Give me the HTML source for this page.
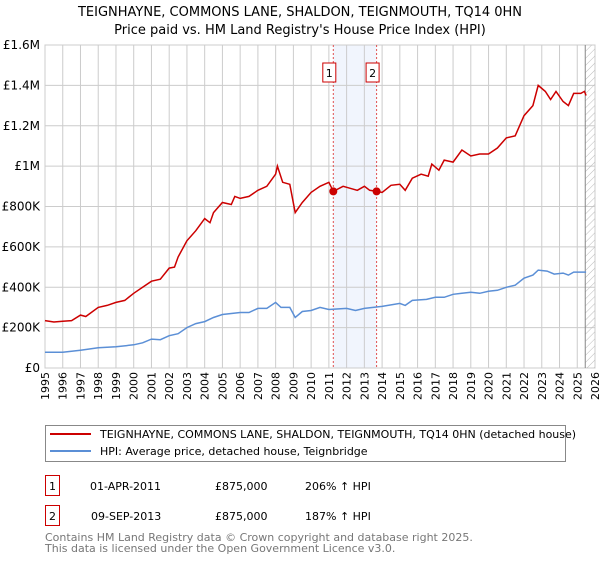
<!DOCTYPE html>
<html><head><meta charset="utf-8"><style>
body{margin:0;background:#fff;font-family:"DejaVu Sans","Liberation Sans",sans-serif;}
svg text{font-family:"DejaVu Sans","Liberation Sans",sans-serif;}
</style></head><body>
<svg id="c" width="600" height="560">
<defs><pattern id="hatch" width="5" height="5" patternUnits="userSpaceOnUse" patternTransform="rotate(45)"><line x1="0" y1="0" x2="0" y2="5" stroke="#bbb" stroke-width="1"/></pattern></defs>
<text x="300" y="16" text-anchor="middle" font-size="13">TEIGNHAYNE, COMMONS LANE, SHALDON, TEIGNMOUTH, TQ14 0HN</text>
<text x="300" y="34" text-anchor="middle" font-size="13">Price paid vs. HM Land Registry's House Price Index (HPI)</text>
<g id="grid"></g><g id="marks"></g><g id="axes"></g>
<rect x="45.5" y="425.5" width="520" height="36" fill="#fff" stroke="#888"/>
<line x1="50" y1="434" x2="91" y2="434" stroke="#cc0000" stroke-width="2"/>
<text x="100" y="438" font-size="11">TEIGNHAYNE, COMMONS LANE, SHALDON, TEIGNMOUTH, TQ14 0HN (detached house)</text>
<line x1="50" y1="451" x2="91" y2="451" stroke="#5b8fd6" stroke-width="2"/>
<text x="100" y="455" font-size="11">HPI: Average price, detached house, Teignbridge</text>
<g>
<rect x="45.5" y="475.5" width="14" height="20" fill="none" stroke="#cc0000"/><text x="52.5" y="490" font-size="11" text-anchor="middle">1</text>
<text x="90" y="490" font-size="11">01-APR-2011</text><text x="215" y="490" font-size="11">£875,000</text><text x="305" y="490" font-size="11">206% ↑ HPI</text></g>
<g>
<rect x="45.5" y="505.5" width="14" height="20" fill="none" stroke="#cc0000"/><text x="52.5" y="520" font-size="11" text-anchor="middle">2</text>
<text x="91" y="520" font-size="11">09-SEP-2013</text><text x="215" y="520" font-size="11">£875,000</text><text x="305" y="520" font-size="11">187% ↑ HPI</text></g>
<text x="45" y="541" font-size="11" fill="#777">Contains HM Land Registry data © Crown copyright and database right 2025.</text>
<text x="45" y="552" font-size="11" fill="#777">This data is licensed under the Open Government Licence v3.0.</text>
</svg>
<script>
const redT=[1995,1995.5,1996,1996.5,1997,1997.3,1998,1998.5,1999,1999.5,2000,2000.5,2001,2001.5,2002,2002.3,2002.5,2003,2003.5,2004,2004.3,2004.5,2005,2005.5,2005.7,2006,2006.5,2007,2007.5,2008,2008.1,2008.4,2008.8,2009.1,2009.5,2010,2010.5,2011,2011.25,2011.8,2012.2,2012.6,2013,2013.3,2013.69,2014,2014.5,2015,2015.3,2015.7,2016.2,2016.6,2016.8,2017.2,2017.5,2018,2018.5,2019,2019.5,2020,2020.5,2021,2021.5,2022,2022.5,2022.8,2023.2,2023.5,2023.8,2024.2,2024.5,2024.8,2025.2,2025.4,2025.5];
const redV=[235,228,232,235,262,255,300,310,325,335,370,400,430,440,495,500,550,630,680,740,720,770,820,810,850,840,850,880,900,960,1000,920,910,770,820,870,900,920,875,900,890,880,900,880,875,870,905,910,880,940,960,950,1010,980,1030,1020,1080,1050,1060,1060,1090,1140,1150,1250,1300,1400,1370,1330,1370,1320,1300,1360,1360,1370,1350];
const hpiT=[1995,1996,1997,1998,1999,2000,2000.5,2001,2001.5,2002,2002.5,2003,2003.5,2004,2004.5,2005,2006,2006.5,2007,2007.5,2008,2008.3,2008.8,2009.1,2009.5,2010,2010.5,2011,2012,2012.5,2013,2014,2015,2015.3,2015.7,2016.5,2017,2017.5,2018,2018.5,2019,2019.5,2020,2020.5,2021,2021.5,2022,2022.5,2022.8,2023.3,2023.7,2024.2,2024.5,2024.8,2025.5];
const hpiV=[78,78,88,100,105,115,125,143,140,160,170,200,220,230,250,265,275,275,295,295,325,300,300,250,280,285,300,290,295,285,295,305,320,310,335,340,350,350,365,370,375,370,380,385,400,410,445,460,485,480,465,470,460,475,475];
const yTicks=[0,200,400,600,800,1000,1200,1400,1600];
const yLabels=["£0","£200K","£400K","£600K","£800K","£1M","£1.2M","£1.4M","£1.6M"];
const xYears=[1995,1996,1997,1998,1999,2000,2001,2002,2003,2004,2005,2006,2007,2008,2009,2010,2011,2012,2013,2014,2015,2016,2017,2018,2019,2020,2021,2022,2023,2024,2025,2026];
const saleT=[2011.25,2013.69];
const saleV=[875,875];
const saleLabels=["1","2"];
const NS="http://www.w3.org/2000/svg";
const X0=45,X1=595,Y0=368,Y1=45;
const xs=t=>X0+(t-1995)/(2026-1995)*(X1-X0);
const ys=v=>Y0-v/1600*(Y0-Y1);
function mk(tag,attrs,parent){const e=document.createElementNS(NS,tag);for(const k in attrs)e.setAttribute(k,attrs[k]);parent.appendChild(e);return e;}
const grid=document.getElementById('grid'),marks=document.getElementById('marks'),axes=document.getElementById('axes');
mk('rect',{x:X0,y:Y1,width:X1-X0,height:Y0-Y1,fill:'#fff',stroke:'#ccc'},grid);
let band=mk('rect',{x:xs(saleT[0]),y:Y1,width:xs(saleT[1])-xs(saleT[0]),height:Y0-Y1,fill:'#eef3fc',opacity:0.8},grid);


xYears.forEach(y=>{const l=mk('line',{x1:xs(y),x2:xs(y),y1:Y1,y2:Y0,stroke:'#ccc'},grid);


const tx=xs(y);const t=mk('text',{x:0,y:0,'font-size':11,'text-anchor':'end',transform:`translate(${tx+4},372) rotate(-90)`},axes);t.textContent=y;

});
yTicks.forEach((v,i)=>{const l=mk('line',{x1:X0,x2:X1,y1:ys(v),y2:ys(v),stroke:'#ccc'},grid);


const t=mk('text',{x:40,y:ys(v)+4,'font-size':12,'text-anchor':'end'},axes);t.textContent=yLabels[i];

});
const hx=xs(2025.45);
let h=mk('rect',{x:hx,y:Y1,width:X1-hx,height:Y0-Y1,fill:'url(#hatch)'},grid);


mk('line',{x1:hx,x2:hx,y1:Y1,y2:Y0,stroke:'#888'},grid);
saleT.forEach((t,i)=>{const l=mk('line',{x1:xs(t),x2:xs(t),y1:Y1,y2:Y0,stroke:'#e05050','stroke-dasharray':'2,2'},grid);


const b=mk('rect',{x:xs(t)-6.5-4,y:63,width:13,height:19,fill:'#fff',stroke:'#cc0000'},axes);


const tt=mk('text',{x:xs(t)-4,y:77,'font-size':11,'text-anchor':'middle'},axes);tt.textContent=saleLabels[i];});
const path=(T,V)=>T.map((t,i)=>(i?'L':'M')+xs(t).toFixed(1)+','+ys(V[i]).toFixed(1)).join('');
let hp=mk('path',{d:path(hpiT,hpiV),fill:'none',stroke:'#5b8fd6','stroke-width':1.5},marks);


let rp=mk('path',{d:path(redT,redV),fill:'none',stroke:'#cc0000','stroke-width':1.5},marks);


saleT.forEach((t,i)=>{const c=mk('circle',{cx:xs(t),cy:ys(saleV[i]),r:4,fill:'#cc0000'},marks);

});
</script>
</body></html>
